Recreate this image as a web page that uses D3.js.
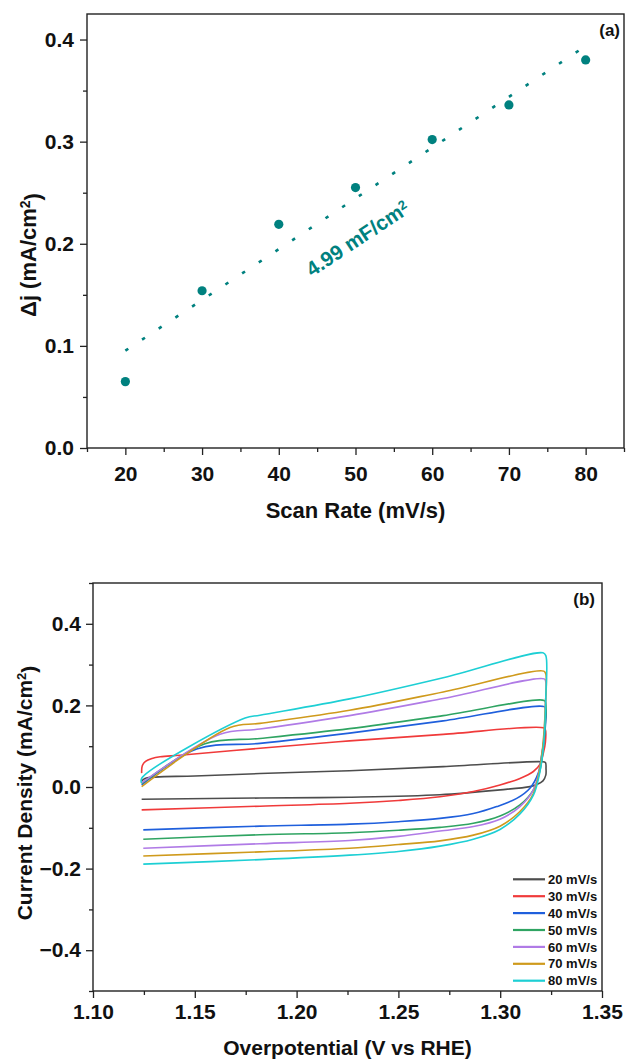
<!DOCTYPE html>
<html>
<head>
<meta charset="utf-8">
<script src="https://d3js.org/d3.v7.min.js"></script>
<style>
  body { margin: 0; background: #fff; }
  svg text { font-family: "Liberation Sans", Arial, sans-serif; font-weight: bold; fill: #111; }
  .axis path { display: none; }
  .axis line { stroke: #222; stroke-width: 1.3; }
  .axis text { font-size: 21px; }
  .frame { fill: none; stroke: #222; stroke-width: 1.4; }
</style>
</head>
<body>
<div id="chart"></div>
<script>
// ---- panel (a): delta j vs scan rate
const scanRates = [20, 30, 40, 50, 60, 70, 80];
const deltaJ = [0.065, 0.154, 0.219, 0.255, 0.302, 0.336, 0.380];
const aXTicks = [20, 30, 40, 50, 60, 70, 80];
const aXMinor = [15, 25, 35, 45, 55, 65, 75, 85];
const aYTicks = [0.0, 0.1, 0.2, 0.3, 0.4];
const aYMinor = [0.05, 0.15, 0.25, 0.35];

// ---- panel (b): CV loops, [potential (V), current density (mA/cm2)]
const cvLabels = ["20 mV/s", "30 mV/s", "40 mV/s", "50 mV/s", "60 mV/s", "70 mV/s", "80 mV/s"];
const cvColors = ["#4d4d4d", "#f03a3a", "#1f5fdc", "#2fa462", "#b07be6", "#cf9a1c", "#1dcfd4"];
const cv20 = [[1.1239, 0.014], [1.1255, 0.021], [1.150, 0.027], [1.182, 0.033], [1.226, 0.040], [1.272, 0.050],
  [1.3203, 0.062], [1.3222, 0.060], [1.3225, 0.045], [1.3224, 0.029], [1.3210, 0.015], [1.3180, 0.006],
  [1.3146, 0.001], [1.300, -0.007], [1.2704, -0.019], [1.226, -0.025], [1.182, -0.027], [1.1239, -0.030]];
const cv30 = [[1.1239, 0.034], [1.1242, 0.052], [1.1258, 0.063], [1.1290, 0.070], [1.1330, 0.074], [1.1427, 0.078],
  [1.182, 0.095], [1.226, 0.113], [1.272, 0.129], [1.3213, 0.145], [1.3222, 0.140], [1.3222, 0.110],
  [1.3212, 0.083], [1.3196, 0.056], [1.3163, 0.038], [1.3097, 0.021], [1.2999, 0.005], [1.2868, -0.011],
  [1.2704, -0.024], [1.250, -0.033], [1.226, -0.040], [1.182, -0.047], [1.1239, -0.056]];
const cv40 = [[1.1239, 0.005], [1.1509, 0.093], [1.182, 0.107], [1.226, 0.132], [1.272, 0.162], [1.3216, 0.197],
  [1.3224, 0.190], [1.3222, 0.150], [1.3214, 0.110], [1.3204, 0.080], [1.3187, 0.034], [1.3146, -0.003],
  [1.3081, -0.028], [1.2983, -0.048], [1.2868, -0.065], [1.2704, -0.077], [1.250, -0.085], [1.226, -0.091],
  [1.182, -0.096], [1.1247, -0.105]];
const cv50 = [[1.1239, 0.008], [1.1550, 0.106], [1.182, 0.119], [1.226, 0.143], [1.272, 0.175], [1.3216, 0.212],
  [1.3224, 0.205], [1.3222, 0.160], [1.3214, 0.110], [1.3196, 0.042], [1.3163, -0.007], [1.3097, -0.044],
  [1.2999, -0.071], [1.2868, -0.089], [1.2704, -0.099], [1.250, -0.106], [1.226, -0.112], [1.182, -0.117],
  [1.1247, -0.128]];
const cv60 = [[1.1239, 0.010], [1.1624, 0.129], [1.182, 0.142], [1.226, 0.175], [1.272, 0.217], [1.3216, 0.265],
  [1.3224, 0.258], [1.3222, 0.200], [1.3214, 0.120], [1.3196, 0.050], [1.3163, -0.007], [1.3097, -0.048],
  [1.2999, -0.079], [1.2868, -0.097], [1.2704, -0.108], [1.250, -0.121], [1.226, -0.131], [1.182, -0.139],
  [1.1247, -0.150]];
const cv70 = [[1.1239, 0.001], [1.1673, 0.146], [1.182, 0.156], [1.226, 0.188], [1.272, 0.233], [1.3214, 0.284],
  [1.3224, 0.277], [1.3222, 0.200], [1.3212, 0.115], [1.3196, 0.050], [1.3163, -0.016], [1.3097, -0.060],
  [1.2999, -0.096], [1.2868, -0.118], [1.2704, -0.132], [1.250, -0.141], [1.226, -0.150], [1.182, -0.159],
  [1.1247, -0.169]];
const cv80 = [[1.1238, 0.010], [1.1240, 0.022], [1.1747, 0.169], [1.182, 0.176], [1.226, 0.216], [1.272, 0.268],
  [1.3210, 0.329], [1.3224, 0.322], [1.3224, 0.220], [1.3215, 0.115], [1.3196, 0.040], [1.3163, -0.020],
  [1.3097, -0.066], [1.2999, -0.104], [1.2868, -0.128], [1.2704, -0.145], [1.250, -0.158], [1.226, -0.167],
  [1.182, -0.178], [1.1247, -0.189]];
const cvCurves = [cv20, cv30, cv40, cv50, cv60, cv70, cv80];
const bXTicks = [1.10, 1.15, 1.20, 1.25, 1.30, 1.35];
const bXMinor = [1.125, 1.175, 1.225, 1.275, 1.325];
const bYTicks = [-0.4, -0.2, 0.0, 0.2, 0.4];
const bYMinor = [-0.5, -0.3, -0.1, 0.1, 0.3, 0.5];

const teal = "#00817f";

const svg = d3.select("#chart").append("svg")
  .attr("width", 627)
  .attr("height", 1060);

// ================= panel (a) =================
const ax = d3.scaleLinear().domain([15, 85]).range([87, 624]);
const ay = d3.scaleLinear().domain([0, 0.425]).range([448, 14]);
const ga = svg.append("g");

ga.append("g").attr("class", "axis").attr("transform", `translate(0,${ay(0)})`)
  .call(d3.axisBottom(ax).tickValues(aXTicks).tickSize(7).tickPadding(11).tickFormat(d3.format("d")));
ga.append("g").attr("class", "axis").attr("transform", `translate(0,${ay(0)})`)
  .call(d3.axisBottom(ax).tickValues(aXMinor).tickSize(4).tickFormat(""));
ga.append("g").attr("class", "axis").attr("transform", `translate(${ax(15)},0)`)
  .call(d3.axisLeft(ay).tickValues(aYTicks).tickSize(7).tickPadding(6).tickFormat(d3.format(".1f")));
ga.append("g").attr("class", "axis").attr("transform", `translate(${ax(15)},0)`)
  .call(d3.axisLeft(ay).tickValues(aYMinor).tickSize(4).tickFormat(""));

ga.append("rect").attr("class", "frame")
  .attr("x", ax(15)).attr("y", ay(0.425))
  .attr("width", ax(85) - ax(15)).attr("height", ay(0) - ay(0.425));

// least squares fit of the points
const mx = d3.mean(scanRates), my = d3.mean(deltaJ);
const slope = d3.sum(scanRates, (x, i) => (x - mx) * (deltaJ[i] - my)) / d3.sum(scanRates, x => (x - mx) ** 2);
const icpt = my - slope * mx;
const fit = x => icpt + slope * x;
const [x0, x1] = d3.extent(scanRates);

ga.append("line")
  .attr("x1", ax(x0)).attr("y1", ay(fit(x0)))
  .attr("x2", ax(x1)).attr("y2", ay(fit(x1)))
  .attr("stroke", teal).attr("stroke-width", 2.6)
  .attr("stroke-dasharray", "3.5 16.5");

ga.selectAll("circle").data(scanRates).enter().append("circle")
  .attr("cx", d => ax(d))
  .attr("cy", (d, i) => ay(deltaJ[i]))
  .attr("r", 4.6)
  .attr("fill", teal);

const ang = Math.atan2(ay(fit(x1)) - ay(fit(x0)), ax(x1) - ax(x0)) * 180 / Math.PI;
const lab = ga.append("text")
  .attr("transform", `translate(${ax(50) + 2},${ay(fit(50)) + 40}) rotate(${ang})`)
  .attr("text-anchor", "middle")
  .attr("dy", "0.35em")
  .style("font-size", "20.5px")
  .style("fill", teal);
lab.append("tspan").text("4.99 mF/cm");
lab.append("tspan").attr("dy", "-0.45em").style("font-size", "13px").text("2");

ga.append("text").attr("x", 620).attr("y", 36).attr("text-anchor", "end")
  .style("font-size", "17px").text("(a)");

ga.append("text").attr("x", (ax(15) + ax(85)) / 2).attr("y", 518).attr("text-anchor", "middle")
  .style("font-size", "22px").text("Scan Rate (mV/s)");

const ta = ga.append("text")
  .attr("transform", "translate(36,255) rotate(-90)")
  .attr("text-anchor", "middle")
  .style("font-size", "22px");
ta.append("tspan").text("Δj (mA/cm");
ta.append("tspan").attr("dy", "-0.45em").style("font-size", "14px").text("2");
ta.append("tspan").attr("dy", "0.45em").text(")");

// ================= panel (b) =================
const bx = d3.scaleLinear().domain([1.10, 1.35]).range([93, 602]);
const by = d3.scaleLinear().domain([-0.5, 0.5]).range([991, 583]);
const gb = svg.append("g");

gb.append("g").attr("class", "axis").attr("transform", `translate(0,${by(-0.5)})`)
  .call(d3.axisBottom(bx).tickValues(bXTicks).tickSize(7).tickPadding(6).tickFormat(d3.format(".2f")));
gb.append("g").attr("class", "axis").attr("transform", `translate(0,${by(-0.5)})`)
  .call(d3.axisBottom(bx).tickValues(bXMinor).tickSize(4).tickFormat(""));
gb.append("g").attr("class", "axis").attr("transform", `translate(${bx(1.10)},0)`)
  .call(d3.axisLeft(by).tickValues(bYTicks).tickSize(7).tickPadding(5).tickFormat(d3.format(".1f")));
gb.append("g").attr("class", "axis").attr("transform", `translate(${bx(1.10)},0)`)
  .call(d3.axisLeft(by).tickValues(bYMinor).tickSize(4).tickFormat(""));

gb.append("rect").attr("class", "frame")
  .attr("x", bx(1.10)).attr("y", by(0.5))
  .attr("width", bx(1.35) - bx(1.10)).attr("height", by(-0.5) - by(0.5));

const cvLine = d3.line()
  .x(d => bx(d[0]))
  .y(d => by(d[1]))
  .curve(d3.curveCatmullRom.alpha(0.5));

gb.selectAll(".cv").data(cvCurves).enter().append("path")
  .attr("class", "cv")
  .attr("d", cvLine)
  .attr("fill", "none")
  .attr("stroke", (d, i) => cvColors[i])
  .attr("stroke-width", 1.6);

// legend
const leg = gb.selectAll(".leg").data(cvLabels).enter().append("g")
  .attr("class", "leg")
  .attr("transform", (d, i) => `translate(513,${879.3 + i * 16.9})`);
leg.append("line").attr("x1", 0).attr("x2", 32)
  .attr("stroke", (d, i) => cvColors[i]).attr("stroke-width", 2.2);
leg.append("text").attr("x", 35).attr("y", 4.6)
  .style("font-size", "13px").text(d => d);

gb.append("text").attr("x", 595).attr("y", 605).attr("text-anchor", "end")
  .style("font-size", "17px").text("(b)");

gb.append("text").attr("x", (bx(1.10) + bx(1.35)) / 2).attr("y", 1055).attr("text-anchor", "middle")
  .style("font-size", "21px").text("Overpotential (V vs RHE)");

const tb = gb.append("text")
  .attr("transform", "translate(32,793) rotate(-90)")
  .attr("text-anchor", "middle")
  .style("font-size", "21px");
tb.append("tspan").text("Current Density (mA/cm");
tb.append("tspan").attr("dy", "-0.45em").style("font-size", "13px").text("2");
tb.append("tspan").attr("dy", "0.45em").text(")");
</script>
</body>
</html>
